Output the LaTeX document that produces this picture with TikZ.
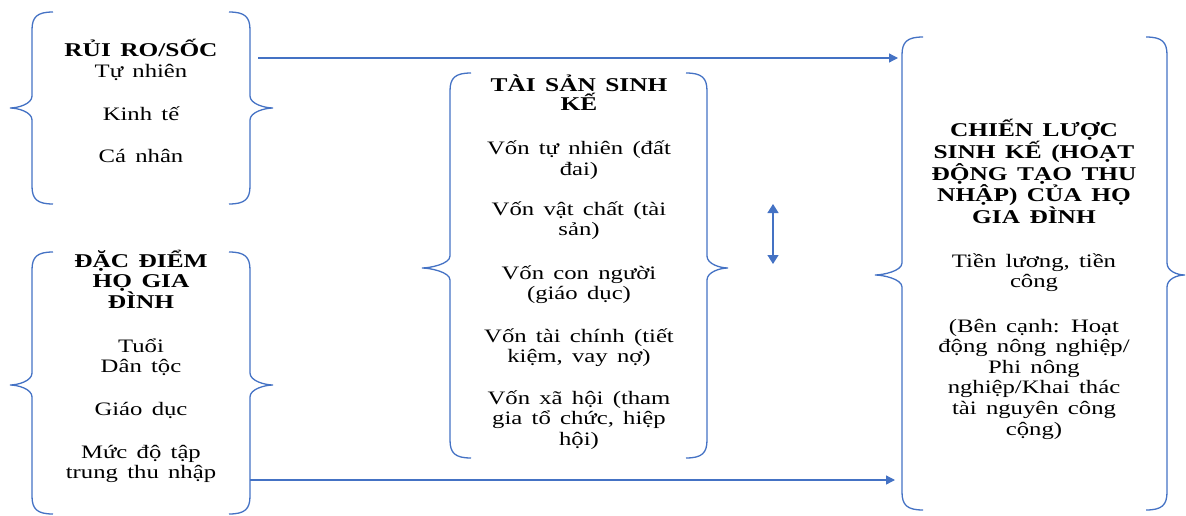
\documentclass[tikz,border=0pt]{standalone}
\usepackage{fontspec}
\setmainfont{Liberation Serif}[FakeStretch=1.3,WordSpace=1.5]
\usetikzlibrary{arrows.meta}
\definecolor{wblue}{HTML}{4472C4}
\newcommand{\dbr}[7]{%
  % #1 left line x, #2 left tip x, #3 right line x, #4 right tip x, #5 top, #6 bottom, #7 mid
  \draw[brace] ({#1+21},#5) .. controls ({#1+5},#5) and (#1,{#5+5}) .. (#1,{#5+18})
    -- (#1,{#7-12}) .. controls (#1,{#7-4}) and ({#2+8},#7) .. (#2,#7)
    .. controls ({#2+8},#7) and (#1,{#7+4}) .. (#1,{#7+12})
    -- (#1,{#6-18}) .. controls (#1,{#6-5}) and ({#1+5},#6) .. ({#1+21},#6);
  \draw[brace] ({#3-21},#5) .. controls ({#3-5},#5) and (#3,{#5+5}) .. (#3,{#5+18})
    -- (#3,{#7-12}) .. controls (#3,{#7-4}) and ({#4-8},#7) .. (#4,#7)
    .. controls ({#4-8},#7) and (#3,{#7+4}) .. (#3,{#7+12})
    -- (#3,{#6-18}) .. controls (#3,{#6-5}) and ({#3-5},#6) .. ({#3-21},#6);
}
\begin{document}
\begin{tikzpicture}[x=1pt,y=-1pt,
  brace/.style={draw=wblue,line width=1.3pt},
  conn/.style={draw=wblue,line width=1.3pt,-{Triangle[length=9pt,width=9pt]}},
  hd/.style={align=center,anchor=base,inner sep=0pt,font=\fontsize{19.5}{20.8}\selectfont\bfseries},
  bd/.style={align=center,anchor=base,inner sep=0pt,font=\fontsize{19}{20.6}\selectfont}]
\useasboundingbox (0,0) rectangle (1186,516);
% braces
\dbr{32}{10}{250}{273}{12}{204}{108}
\dbr{32}{10}{250}{273}{252}{514}{385}
\dbr{450}{422}{707}{728}{73}{458}{268}
\dbr{902}{875}{1167}{1185}{37}{510}{275}
% box 1 (node anchors at the baseline of the last line)
\node[hd] (h1) at (141,57) {RỦI RO/SỐC};
\node[bd] (t11) at (141,78) {Tự nhiên};
\node[bd] (t12) at (141,121) {Kinh tế};
\node[bd] (t13) at (141,162) {Cá nhân};
% box 2
\node[hd] (h2) at (141,308.6) {ĐẶC ĐIỂM\\HỌ GIA\\ĐÌNH};
\node[bd] (t21) at (141,372.6) {Tuổi\\Dân tộc};
\node[bd] (t22) at (141,415) {Giáo dục};
\node[bd] (t23) at (141,478.6) {Mức độ tập\\trung thu nhập};
% box 3
\node[hd,font=\fontsize{19.5}{19}\selectfont\bfseries] (h3) at (579,111) {TÀI SẢN SINH\\KẾ};
\node[bd] (t31) at (579,175.6) {Vốn tự nhiên (đất\\đai)};
\node[bd] (t32) at (579,235.6) {Vốn vật chất (tài\\sản)};
\node[bd] (t33) at (579,299.6) {Vốn con người\\(giáo dục)};
\node[bd] (t34) at (579,362.6) {Vốn tài chính (tiết\\kiệm, vay nợ)};
\node[bd] (t35) at (579,445.2) {Vốn xã hội (tham\\gia tổ chức, hiệp\\hội)};
% box 4
\node[hd] (h4) at (1034,223.2) {CHIẾN LƯỢC\\SINH KẾ (HOẠT\\ĐỘNG TẠO THU\\NHẬP) CỦA HỌ\\GIA ĐÌNH};
\node[bd] (t41) at (1034,287.6) {Tiền lương, tiền\\công};
\node[bd] (t42) at (1034,435) {(Bên cạnh: Hoạt\\động nông nghiệp/\\Phi nông\\nghiệp/Khai thác\\tài nguyên công\\cộng)};
% connectors
\coordinate (a1s) at (258,58);
\coordinate (a1e) at (898,58);
\coordinate (a2s) at (250,480);
\coordinate (a2e) at (895,480);
\coordinate (d1) at (773,204);
\coordinate (d2) at (773,264);
\draw[conn] (a1s) -- (a1e);
\draw[conn] (a2s) -- (a2e);
\draw[conn,{Triangle[length=9pt,width=11pt]}-{Triangle[length=9pt,width=11pt]}] (d1) -- (d2);
\end{tikzpicture}
\end{document}
